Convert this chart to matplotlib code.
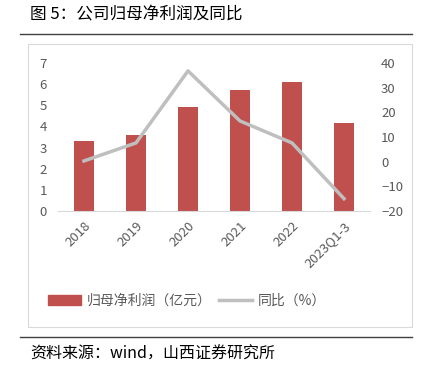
import matplotlib.pyplot as plt
from matplotlib.patches import Rectangle
from matplotlib.lines import Line2D

plt.rcParams['font.family'] = ['Noto Sans CJK SC', 'DejaVu Sans']

categories = ['2018', '2019', '2020', '2021', '2022', '2023Q1-3']
profit = [3.33, 3.6, 4.9, 5.7, 6.1, 4.17]
yoy = [0.3, 7.6, 36.8, 16.5, 7.6, -15.0]

bar_color = '#C0504D'
line_color = '#BFBFBF'
text_color = '#595959'

fig = plt.figure(figsize=(4.22, 3.70), dpi=100)
W, H = 422, 370

def fx(px):
    return px / W

def fy(py):
    return 1 - py / H

# title and rules
fig.text(fx(30), fy(15), '图 5：公司归母净利润及同比', fontsize=12, va='center', ha='left', color='black')
fig.add_artist(Line2D([fx(20), fx(412)], [fy(34), fy(34)], color='#404040', lw=1.0))
fig.add_artist(Line2D([fx(20), fx(412)], [fy(337), fy(337)], color='#404040', lw=1.0))
fig.text(fx(30), fy(354), '资料来源：wind，山西证券研究所', fontsize=11.5, va='center', ha='left', color='black')

# chart frame
fig.add_artist(Rectangle((fx(28), fy(327)), fx(384), fy(44) - fy(327),
                         fill=False, edgecolor='#D9D9D9', lw=0.8))

ax = fig.add_axes([fx(58), fy(211), fx(312), fy(63) - fy(211)])
x = range(len(categories))
ax.bar(x, profit, width=0.4, color=bar_color, zorder=2)
ax.set_ylim(0, 7)
ax.set_yticks(range(0, 8))
ax.set_xlim(-0.5, len(categories) - 0.5)
ax.set_xticks(list(x))
ax.set_xticklabels(categories, rotation=45, ha='right', rotation_mode='anchor')

ax2 = ax.twinx()
ax2.plot(list(x), yoy, color=line_color, lw=2.5, zorder=3)
ax2.set_ylim(-20, 40)
ax2.set_yticks(range(-20, 41, 10))

for a in (ax, ax2):
    for s in a.spines.values():
        s.set_visible(False)
    a.tick_params(length=0, labelsize=9.5, colors=text_color)
ax.spines['bottom'].set_visible(True)
ax.spines['bottom'].set_color('#D9D9D9')
ax.tick_params(axis='y', pad=8)
ax2.tick_params(axis='y', pad=8)
ax.tick_params(axis='x', pad=6)

handles = [Rectangle((0, 0), 1, 1, color=bar_color),
           Line2D([], [], color=line_color, lw=2.5)]
fig.legend(handles, ['归母净利润（亿元）', '同比（%）'], loc='center',
           bbox_to_anchor=(fx(187), fy(301)), ncol=2, frameon=False,
           fontsize=10, labelcolor=text_color, handlelength=2.4, columnspacing=0.5,
           handletextpad=0.4)

fig.savefig('out.png', dpi=100)
